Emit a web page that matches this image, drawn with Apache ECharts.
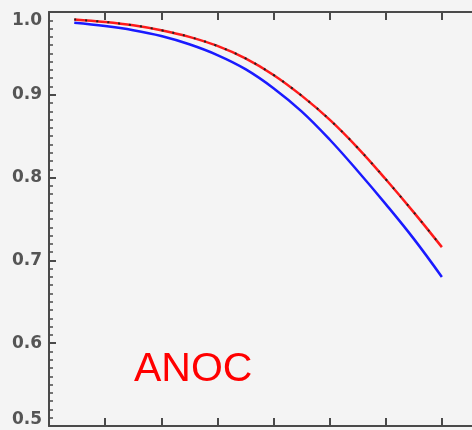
<!DOCTYPE html>
<html>
<head>
<meta charset="utf-8">
<script src="https://cdn.jsdelivr.net/npm/echarts@6/dist/echarts.min.js"></script>
<style>
  html, body { margin: 0; padding: 0; background: #f4f4f4; overflow: hidden; width: 472px; height: 430px; }
  #chart { width: 500px; height: 430px; }
</style>
</head>
<body>
<div id="chart"></div>
<script>
// x positions (axis ticks every 1 unit, no labels); the frame runs past the right edge
var xVals = [0.45, 1, 1.5, 2, 2.5, 3, 3.5, 4, 4.5, 5, 5.5, 6, 6.5, 7];
var redVals = [0.991, 0.988, 0.984, 0.978, 0.970, 0.959, 0.944, 0.924, 0.899, 0.870, 0.836, 0.798, 0.758, 0.716];
var blackVals = [0.991, 0.988, 0.984, 0.978, 0.970, 0.959, 0.944, 0.924, 0.899, 0.870, 0.836, 0.798, 0.758, 0.716];
var blueVals = [0.987, 0.983, 0.978, 0.971, 0.961, 0.948, 0.931, 0.908, 0.880, 0.846, 0.808, 0.768, 0.726, 0.680];
var yTicks = [0.5, 0.6, 0.7, 0.8, 0.9, 1.0];
var label = 'ANOC';

function pairs(xs, ys) {
  return xs.map(function (x, i) { return [x, ys[i]]; });
}

var chart = echarts.init(document.getElementById('chart'));
var axisColor = '#4a4a4a';
var labelFont = 'DejaVu Sans';

var option = {
  backgroundColor: '#f4f4f4',
  animation: false,
  title: {
    text: label,
    left: 134,
    top: 349,
    padding: 0,
    textStyle: {
      color: '#ff0000',
      fontFamily: 'Liberation Sans',
      fontWeight: 'normal',
      fontSize: 41
    }
  },
  grid: { left: 49, right: 2, top: 12, bottom: 4, containLabel: false },
  xAxis: [
    {
      type: 'value', min: 0, max: 8, interval: 1, position: 'bottom',
      axisLine: { lineStyle: { color: axisColor, width: 2 } },
      axisTick: { inside: true, length: 8, lineStyle: { color: axisColor, width: 2 } },
      axisLabel: { show: false },
      splitLine: { show: false }
    },
    {
      type: 'value', min: 0, max: 8, interval: 1, position: 'top',
      axisLine: { lineStyle: { color: axisColor, width: 2 } },
      axisTick: { inside: true, length: 8, lineStyle: { color: axisColor, width: 2 } },
      axisLabel: { show: false },
      splitLine: { show: false }
    }
  ],
  yAxis: {
    type: 'value', min: yTicks[0], max: yTicks[yTicks.length - 1], interval: 0.1,
    axisLine: { show: true, lineStyle: { color: axisColor, width: 2 } },
    axisTick: { inside: true, length: 7, lineStyle: { color: axisColor, width: 2 } },
    minorTick: { show: true, splitNumber: 10, length: 4, lineStyle: { color: axisColor, width: 1.5 } },
    splitLine: { show: false },
    axisLabel: {
      margin: 7,
      color: '#555',
      fontFamily: labelFont,
      fontWeight: 'bold',
      fontSize: 17,
      formatter: function (v) {
        var s = v.toFixed(1);
        if (Math.abs(v - 1.0) < 1e-6) return '{t|' + s + '}';
        if (Math.abs(v - 0.5) < 1e-6) return '{b|' + s + '}';
        return s;
      },
      rich: {
        t: { padding: [18, 0, 0, 0], color: '#555', fontFamily: labelFont, fontWeight: 'bold', fontSize: 17 },
        b: { padding: [0, 0, 12, 0], color: '#555', fontFamily: labelFont, fontWeight: 'bold', fontSize: 17 }
      }
    }
  },
  series: [
    {
      name: 'blue', type: 'line', data: pairs(xVals, blueVals),
      smooth: 0.4, showSymbol: false,
      lineStyle: { color: '#1a1aff', width: 2.5 }
    },
    {
      name: 'red', type: 'line', data: pairs(xVals, redVals),
      smooth: 0.4, showSymbol: false,
      lineStyle: { color: '#ff1a1a', width: 2.5 }
    },
    {
      name: 'black', type: 'line', data: pairs(xVals, blackVals),
      smooth: 0.4, showSymbol: false,
      lineStyle: { color: '#222', width: 2, type: [2, 9] }
    }
  ]
};
chart.setOption(option);
</script>
</body>
</html>
